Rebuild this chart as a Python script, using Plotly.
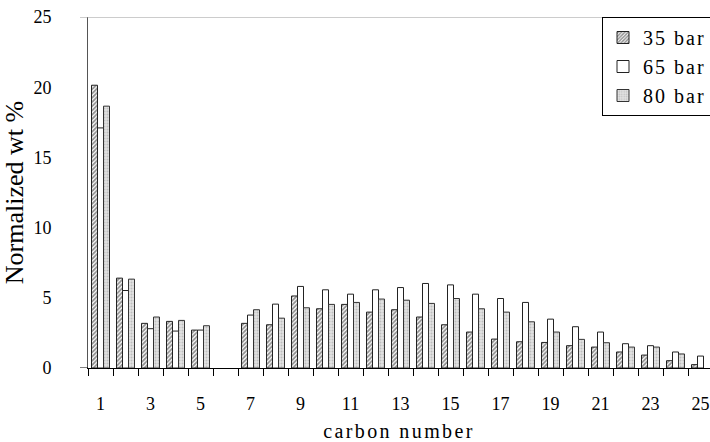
import plotly.graph_objects as go

carbon = list(range(1, 26))
bar35 = [20.14, 6.40, 3.18, 3.32, 2.70, None, 3.18, 3.08, 5.13, 4.22, 4.53, 3.98, 4.15, 3.63, 3.08,
         2.56, 2.06, 1.87, 1.82, 1.59, 1.49, 1.14, 0.92, 0.52, 0.24]
bar65 = [17.1, 5.52, 2.80, 2.63, 2.70, None, 3.77, 4.55, 5.81, 5.57, 5.26, 5.57, 5.73, 6.02, 5.92,
         5.26, 4.95, 4.67, 3.48, 2.94, 2.56, 1.73, 1.59, 1.14, 0.85]
bar80 = [18.65, 6.33, 3.63, 3.39, 3.01, None, 4.15, 3.55, 4.29, 4.53, 4.67, 4.91, 4.83, 4.60, 4.95,
         4.22, 3.98, 3.29, 2.56, 2.04, 1.80, 1.49, 1.49, 1.00, None]
names = ["35 bar", "65 bar", "80 bar"]
xtick_vals = list(range(1, 26, 2))
xtick_text = [str(v) for v in xtick_vals]
ytick_vals = [0, 5, 10, 15, 20, 25]

FONT = "Liberation Serif"

def spaced(t, px):
    return f'<span style="letter-spacing:{px}px">{t}</span>'

fig = go.Figure()
fig.add_trace(go.Bar(
    x=carbon, y=bar35, name=spaced(names[0], 2), legendgroup="a",
    marker=dict(color="white", line=dict(color="#222", width=1),
                pattern=dict(shape="/", fgcolor="#222", bgcolor="white", size=3, solidity=0.6)),
))
fig.add_trace(go.Bar(
    x=carbon, y=bar65, name=spaced(names[1], 2), legendgroup="b",
    marker=dict(color="white", line=dict(color="#222", width=1)),
))
fig.add_trace(go.Bar(
    x=carbon, y=bar80, name=spaced(names[2], 2), legendgroup="c",
    marker=dict(color="#e2e2e2", line=dict(color="#333", width=1),
                pattern=dict(shape=".", fgcolor="#9a9a9a", bgcolor="#e2e2e2", size=3, solidity=0.35)),
))

L, W = 88, 710
pw = W - L
xmax = 0.5 + pw / 25.0

fig.update_layout(
    width=710, height=442,
    margin=dict(l=L, r=0, t=17, b=73.5, autoexpand=False),
    paper_bgcolor="white", plot_bgcolor="white",
    barmode="group", bargap=0.28, bargroupgap=0,
    font=dict(family=FONT, size=18, color="black"),
    showlegend=True,
    legend=dict(x=(602 - L) / pw, y=1, xanchor="left", yanchor="top",
                bordercolor="black", borderwidth=1, bgcolor="white",
                font=dict(family=FONT, size=20), itemwidth=30,
                tracegroupgap=0),
    xaxis=dict(range=[0.5, xmax], tickmode="array", tickvals=xtick_vals, ticktext=xtick_text,
               ticks="", showgrid=False, zeroline=False,
               showline=True, linecolor="black", linewidth=1,
               ticklabelstandoff=19,
               tickfont=dict(family=FONT, size=18),
               minor=dict(tickmode="array", tickvals=[i + 0.5 for i in range(0, 26)],
                          ticks="outside", ticklen=7, tickcolor="black", tickwidth=1, showgrid=False),
               title=dict(text=spaced("carbon number", 2.4), standoff=15,
                          font=dict(family=FONT, size=20))),
    yaxis=dict(range=[0, 25], tickmode="array", tickvals=ytick_vals,
               ticks="", showgrid=False, zeroline=False,
               showline=True, linecolor="#555", linewidth=1,
               ticklabelstandoff=32,
               tickfont=dict(family=FONT, size=18),
               title=dict(text="Normalized wt %", standoff=12,
                          font=dict(family=FONT, size=26))),
)

fig.add_shape(type="line", xref="paper", yref="y", x0=-8 / pw, x1=(602 - L) / pw, y0=25, y1=25,
              line=dict(color="#999", width=1))
fig.add_shape(type="line", xref="paper", yref="y", x0=-8 / pw, x1=0, y0=0, y1=0,
              line=dict(color="black", width=1))

fig.write_html("out.html")
